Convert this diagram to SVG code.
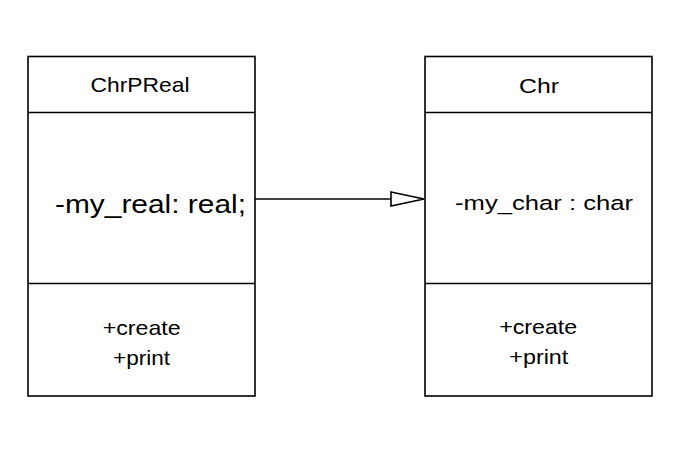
<svg xmlns="http://www.w3.org/2000/svg" width="680" height="454" viewBox="0 0 680 454">
<style>
.box{fill:#fff;stroke:#000;stroke-width:1.6}
.div{stroke:#000;stroke-width:1.6}
text{font-family:"Liberation Sans",Arial,sans-serif;fill:#000}
.t{font-size:21px;text-anchor:middle}
.m{font-size:21px;text-anchor:middle}
</style>
<rect width="680" height="454" fill="#fff"/>
<g id="ChrPReal">
<rect class="box" x="28" y="56.5" width="227" height="339.5"/>
<line class="div" x1="28" y1="112.5" x2="255" y2="112.5"/>
<line class="div" x1="28" y1="283.5" x2="255" y2="283.5"/>
<text class="t" x="140" y="92.3" textLength="99" lengthAdjust="spacingAndGlyphs">ChrPReal</text>
<text x="55" y="213" font-size="26" textLength="191" lengthAdjust="spacingAndGlyphs">-my_real: real;</text>
<text class="m" x="141.7" y="335" textLength="78" lengthAdjust="spacingAndGlyphs">+create</text>
<text class="m" x="141.5" y="365" textLength="57" lengthAdjust="spacingAndGlyphs">+print</text>
</g>
<g id="Chr">
<rect class="box" x="425" y="56.5" width="227" height="339.5"/>
<line class="div" x1="425" y1="112.5" x2="652" y2="112.5"/>
<line class="div" x1="425" y1="283.5" x2="652" y2="283.5"/>
<text class="t" x="539" y="92.5" textLength="40" lengthAdjust="spacingAndGlyphs">Chr</text>
<text x="455" y="210" font-size="20.5" textLength="178" lengthAdjust="spacingAndGlyphs">-my_char : char</text>
<text class="m" x="538.2" y="334" textLength="78" lengthAdjust="spacingAndGlyphs">+create</text>
<text class="m" x="538.8" y="363.5" textLength="59" lengthAdjust="spacingAndGlyphs">+print</text>
</g>
<g id="connectors">
<line x1="255" y1="199" x2="391" y2="199" stroke="#000" stroke-width="1.6"/>
<polygon points="391,192 424,199 391,206" fill="#fff" stroke="#000" stroke-width="1.6"/>
</g>
</svg>
